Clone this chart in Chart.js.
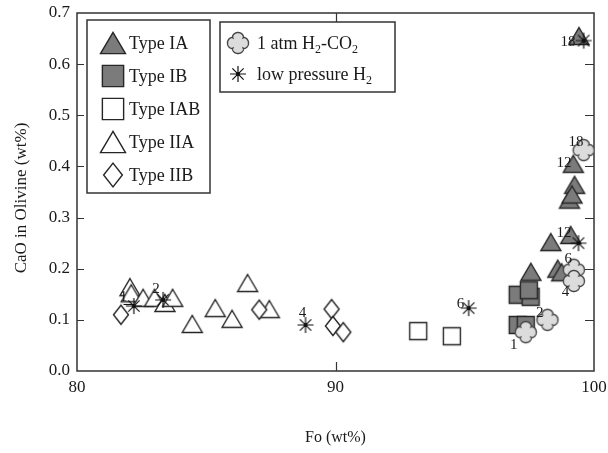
<!DOCTYPE html>
<html>
<head>
<meta charset="utf-8">
<script src="https://cdn.jsdelivr.net/npm/chart.js@4"></script>
<style>
  html, body { margin: 0; padding: 0; background: #fff; }
  #wrap { width: 608px; height: 453px; }
</style>
</head>
<body>
<div id="wrap"><canvas id="c" width="608" height="453"></canvas></div>
<script>
// Olivine CaO content versus forsterite (Fo) content
const typeIA   = [[99.42,0.655],[99.2,0.405],[99.25,0.364],[99.05,0.335],[99.15,0.345],[99.1,0.266],[98.33,0.252],[98.6,0.2],[98.75,0.193],[97.56,0.194]];
const typeIB   = [[97.05,0.149],[97.55,0.145],[97.48,0.158],[97.05,0.09],[97.36,0.09]];
const typeIAB  = [[93.2,0.078],[94.5,0.068]];
const typeIIA  = [[82.05,0.164],[82.1,0.152],[82.56,0.143],[83.0,0.143],[83.4,0.133],[83.7,0.143],[84.46,0.092],[85.35,0.123],[86.0,0.102],[86.6,0.172],[87.44,0.121]];
const typeIIB  = [[81.7,0.11],[87.05,0.12],[89.85,0.121],[89.9,0.088],[90.3,0.076]];
const h2co2    = [[97.36,0.076],[98.2,0.1],[99.22,0.198],[99.22,0.176],[99.6,0.432]];
const lowH2    = [[99.6,0.646],[99.4,0.25],[95.15,0.123],[88.84,0.09],[83.33,0.139],[82.2,0.127]];
const rangeBar = [[81.8,0.13],[83.6,0.13]];

// run numbers written beside the experimental points
const noteText = ['1','2','4','6','12','18','1','2','4','6','18','12'];
const noteFo   = [81.8, 83.06, 88.72, 94.84, 98.84, 98.99, 96.9, 97.9, 98.9, 99.0, 99.3, 98.84];
const noteCaO  = [0.145, 0.16, 0.113, 0.131, 0.27, 0.644, 0.051, 0.113, 0.155, 0.219, 0.448, 0.407];

const xTicks = [80, 90, 100];
const yTicks = [0, 0.1, 0.2, 0.3, 0.4, 0.5, 0.6, 0.7];
const yTitle = 'CaO in Olivine (wt%)';

const SERIF = '"Liberation Serif", "Times New Roman", serif';
const DARK = '#7b7b7b', LIGHT = '#dcdcdc', INK = '#262626';

function drawMarker(ctx, kind, x, y, s) {
  ctx.save();
  ctx.lineWidth = 1.4;
  ctx.strokeStyle = INK;
  ctx.beginPath();
  if (kind === 'triA' || kind === 'triW') {
    const w = 20 * s, h = 17 * s;
    ctx.moveTo(x, y - h / 2);
    ctx.lineTo(x + w / 2, y + h / 2);
    ctx.lineTo(x - w / 2, y + h / 2);
    ctx.closePath();
    ctx.fillStyle = kind === 'triA' ? DARK : '#fff';
    ctx.fill(); ctx.stroke();
  } else if (kind === 'sqB' || kind === 'sqW') {
    const a = 17 * s;
    ctx.rect(x - a / 2, y - a / 2, a, a);
    ctx.fillStyle = kind === 'sqB' ? DARK : '#fff';
    ctx.fill(); ctx.stroke();
  } else if (kind === 'dia') {
    const w = 15 * s, h = 19 * s;
    ctx.moveTo(x, y - h / 2);
    ctx.lineTo(x + w / 2, y);
    ctx.lineTo(x, y + h / 2);
    ctx.lineTo(x - w / 2, y);
    ctx.closePath();
    ctx.fillStyle = '#fff';
    ctx.fill(); ctx.stroke();
  } else if (kind === 'clover') {
    const R = 10.5 * s;
    for (let i = 0; i <= 240; i++) {
      const t = i / 240 * Math.PI * 2;
      const r = R * (0.7 + 0.3 * Math.pow(Math.abs(Math.cos(2 * t)), 0.6));
      const px = x + r * Math.cos(t), py = y + r * Math.sin(t);
      if (i === 0) ctx.moveTo(px, py); else ctx.lineTo(px, py);
    }
    ctx.closePath();
    ctx.fillStyle = LIGHT;
    ctx.strokeStyle = '#444';
    ctx.fill(); ctx.stroke();
  } else if (kind === 'star') {
    const r = 8 * s;
    ctx.lineWidth = 1.2;
    ctx.strokeStyle = '#111';
    for (let k = 0; k < 4; k++) {
      const a = k * Math.PI / 4;
      ctx.moveTo(x - r * Math.cos(a), y - r * Math.sin(a));
      ctx.lineTo(x + r * Math.cos(a), y + r * Math.sin(a));
    }
    ctx.stroke();
    ctx.beginPath();
    ctx.arc(x, y, 2 * s, 0, Math.PI * 2);
    ctx.fillStyle = '#111';
    ctx.fill();
  }
  ctx.restore();
}

function markerCanvas(kind, s) {
  const c = document.createElement('canvas');
  c.width = 28; c.height = 28;
  drawMarker(c.getContext('2d'), kind, 14, 14, s);
  return c;
}

const pts = arr => arr.map(p => ({ x: p[0], y: p[1] }));

function scatterSet(label, arr, kind, order) {
  return {
    label, data: pts(arr), pointStyle: markerCanvas(kind, 1),
    pointRadius: 12, pointHoverRadius: 12, showLine: false, order
  };
}

function drawRich(ctx, parts, x0, yc) {
  let xx = x0;
  parts.forEach(([t, sub]) => {
    ctx.font = (sub ? '12px ' : '18px ') + SERIF;
    ctx.fillText(t, xx, yc + (sub ? 6 : 0));
    xx += ctx.measureText(t).width;
  });
}

// frame with inward ticks, axis title, run-number notes and the two legend boxes
const decor = {
  id: 'decor',
  beforeDatasetsDraw(chart) {
    const { ctx, chartArea: a, scales: { x, y } } = chart;
    ctx.save();
    ctx.strokeStyle = '#333';
    ctx.lineWidth = 1.5;
    ctx.strokeRect(a.left, a.top, a.right - a.left, a.bottom - a.top);
    ctx.lineWidth = 1.2;
    ctx.beginPath();
    yTicks.slice(1, -1).forEach(v => {
      const py = Math.round(y.getPixelForValue(v)) + 0.5;
      ctx.moveTo(a.left, py); ctx.lineTo(a.left + 7, py);
      ctx.moveTo(a.right, py); ctx.lineTo(a.right - 9, py);
    });
    xTicks.slice(1, -1).forEach(v => {
      const px = Math.round(x.getPixelForValue(v)) + 0.5;
      ctx.moveTo(px, a.bottom); ctx.lineTo(px, a.bottom - 9);
      ctx.moveTo(px, a.top); ctx.lineTo(px, a.top + 9);
    });
    ctx.stroke();

    ctx.translate(22, 198);
    ctx.rotate(-Math.PI / 2);
    ctx.font = '17px ' + SERIF;
    ctx.fillStyle = '#1a1a1a';
    ctx.textAlign = 'center';
    ctx.textBaseline = 'middle';
    ctx.fillText(yTitle, 0, 0);
    ctx.restore();
  },
  afterDatasetsDraw(chart) {
    const { ctx, scales: { x, y } } = chart;
    ctx.save();
    ctx.fillStyle = '#1a1a1a';
    ctx.font = '15px ' + SERIF;
    ctx.textAlign = 'center';
    ctx.textBaseline = 'middle';
    noteText.forEach((t, i) => {
      ctx.fillText(t, x.getPixelForValue(noteFo[i]), y.getPixelForValue(noteCaO[i]));
    });

    // legend box: meteorite olivine types
    ctx.fillStyle = '#fff';
    ctx.strokeStyle = '#333';
    ctx.lineWidth = 1.5;
    ctx.fillRect(87, 20, 123, 173);
    ctx.strokeRect(87, 20, 123, 173);
    const rows = [['triA', 'Type IA'], ['sqB', 'Type IB'], ['sqW', 'Type IAB'], ['triW', 'Type IIA'], ['dia', 'Type IIB']];
    ctx.font = '18px ' + SERIF;
    ctx.textAlign = 'left';
    rows.forEach((r, i) => {
      const cy = 43 + i * 33;
      drawMarker(ctx, r[0], 113, cy, 1.25);
      ctx.fillStyle = '#1a1a1a';
      ctx.font = '18px ' + SERIF;
      ctx.fillText(r[1], 129, cy + 1);
    });

    // legend box: experiments
    ctx.fillStyle = '#fff';
    ctx.fillRect(220, 22, 175, 70);
    ctx.strokeRect(220, 22, 175, 70);
    drawMarker(ctx, 'clover', 238, 43, 1.0);
    drawMarker(ctx, 'star', 238, 74, 1.0);
    ctx.fillStyle = '#1a1a1a';
    drawRich(ctx, [['1 atm H', 0], ['2', 1], ['-CO', 0], ['2', 1]], 257, 44);
    drawRich(ctx, [['low pressure H', 0], ['2', 1]], 257, 75);
    ctx.restore();
  }
};

new Chart(document.getElementById('c'), {
  type: 'scatter',
  data: {
    datasets: [
      { label: 'range', data: pts(rangeBar), showLine: true, borderColor: '#111', borderWidth: 1.2, pointRadius: 0, order: 8 },
      scatterSet('Type IIA', typeIIA, 'triW', 7),
      scatterSet('Type IIB', typeIIB, 'dia', 6),
      scatterSet('Type IAB', typeIAB, 'sqW', 5),
      scatterSet('Type IB', typeIB, 'sqB', 4),
      scatterSet('Type IA', typeIA, 'triA', 3),
      scatterSet('1 atm H2-CO2', h2co2, 'clover', 2),
      scatterSet('low pressure H2', lowH2, 'star', 1)
    ]
  },
  options: {
    responsive: false,
    animation: false,
    events: [],
    layout: { padding: { left: 0, right: 14, top: 13, bottom: 0 } },
    plugins: { legend: { display: false }, tooltip: { enabled: false } },
    scales: {
      x: {
        type: 'linear', min: 80, max: 100,
        afterBuildTicks: s => { s.ticks = xTicks.map(v => ({ value: v })); },
        afterFit: s => { s.height = 82; s.paddingLeft = 0; s.paddingRight = 0; },
        grid: { display: false, drawTicks: false },
        border: { display: false },
        ticks: { font: { family: SERIF, size: 17 }, color: '#1a1a1a', padding: 6 },
        title: { display: true, text: 'Fo (wt%)', font: { family: SERIF, size: 16 }, color: '#1a1a1a', padding: { top: 0, bottom: 6 } }
      },
      y: {
        type: 'linear', min: 0, max: 0.7,
        afterBuildTicks: s => { s.ticks = yTicks.map(v => ({ value: v })); },
        afterFit: s => { s.width = 77; s.paddingTop = 0; s.paddingBottom = 0; },
        grid: { display: false, drawTicks: false },
        border: { display: false },
        ticks: { font: { family: SERIF, size: 17 }, color: '#1a1a1a', padding: 7, callback: v => v.toFixed(1) }
      }
    }
  },
  plugins: [decor]
});
</script>
</body>
</html>
